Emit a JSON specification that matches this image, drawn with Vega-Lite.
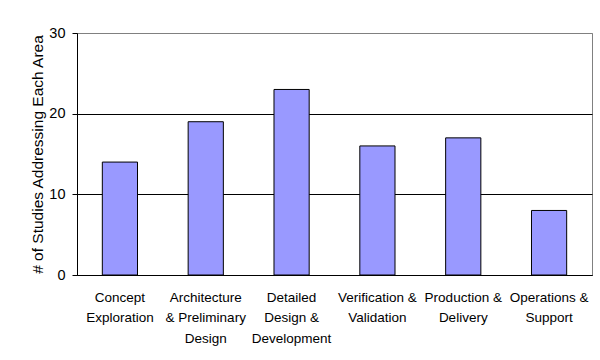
{
  "$schema": "https://vega.github.io/schema/vega-lite/v6.json",
  "width": 515,
  "height": 242,
  "autosize": {"type": "none"},
  "padding": {"left": 77, "top": 33, "right": 8, "bottom": 85},
  "background": "white",
  "data": {
    "values": [
      {"area": "Concept\nExploration", "studies": 14},
      {"area": "Architecture\n& Preliminary\nDesign", "studies": 19},
      {"area": "Detailed\nDesign &\nDevelopment", "studies": 23},
      {"area": "Verification &\nValidation", "studies": 16},
      {"area": "Production &\nDelivery", "studies": 17},
      {"area": "Operations &\nSupport", "studies": 8}
    ]
  },
  "mark": {"type": "bar", "color": "#9999FF", "stroke": "#000000", "strokeWidth": 1},
  "encoding": {
    "x": {
      "field": "area",
      "type": "nominal",
      "sort": null,
      "scale": {"paddingInner": 0.59, "paddingOuter": 0.295},
      "axis": {
        "title": null,
        "labelAngle": 0,
        "ticks": false,
        "labelExpr": "split(datum.label, '\\n')",
        "labelFont": "Liberation Sans",
        "labelFontSize": 13.5,
        "labelLineHeight": 20.5,
        "labelColor": "#000000",
        "labelPadding": 15,
        "domainColor": "#000000",
        "labelLimit": 200
      }
    },
    "y": {
      "field": "studies",
      "type": "quantitative",
      "scale": {"domain": [0, 30], "nice": false},
      "axis": {
        "title": "# of Studies Addressing Each Area",
        "titleFont": "Liberation Sans",
        "titleFontSize": 15.5,
        "titleFontWeight": "normal",
        "titleColor": "#000000",
        "titlePadding": 3,
        "values": [0, 10, 20, 30],
        "labelFont": "Liberation Sans",
        "labelFontSize": 14.5,
        "labelColor": "#000000",
        "labelPadding": 7,
        "tickSize": 5,
        "tickColor": "#000000",
        "domainColor": "#000000",
        "grid": true,
        "gridColor": {"condition": {"test": "datum.value == 30", "value": "#808080"}, "value": "#000000"},
        "gridOpacity": 1
      }
    }
  },
  "config": {
    "view": {"stroke": "#808080", "strokeWidth": 1},
    "font": "Liberation Sans"
  }
}
